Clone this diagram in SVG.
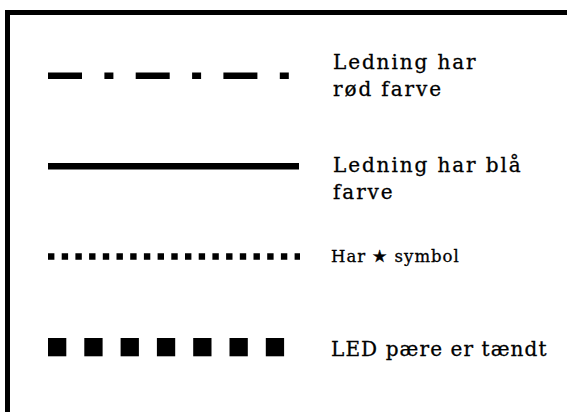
<svg xmlns="http://www.w3.org/2000/svg" width="567" height="412" viewBox="0 0 567 412">
  <style>
    .label { font-family: "DejaVu Serif", "Liberation Serif", serif; fill: #000; stroke: #000; stroke-width: 0.3px; }
    .big { font-size: 20px; letter-spacing: 1.9px; }
    .tight { letter-spacing: 1.1px; }
    .small { font-size: 16.5px; letter-spacing: 1px; }
    .stroke { fill: none; stroke: #000; }
  </style>
  <rect width="567" height="412" fill="#fff"/>
  <!-- legend frame (continues past the right and bottom edges) -->
  <rect x="7.5" y="12.5" width="600" height="450" fill="none" stroke="#000" stroke-width="5"/>

  <g id="connectors">
    <!-- red wire: dash-dot -->
    <line class="stroke" x1="48" y1="75.7" x2="291" y2="75.7" stroke-width="6.6" stroke-dasharray="34 22.4 9 22.3"/>
    <!-- blue wire: solid -->
    <line class="stroke" x1="48" y1="166.2" x2="299" y2="166.2" stroke-width="6.4"/>
    <!-- star symbol: dotted -->
    <line class="stroke" x1="48" y1="256.5" x2="300" y2="256.5" stroke-width="6.4" stroke-dasharray="6.4 7.3"/>
  </g>

  <g id="led">
    <rect x="48" y="338" width="18.3" height="18.3"/>
    <rect x="84.3" y="338" width="18.3" height="18.3"/>
    <rect x="120.6" y="338" width="18.3" height="18.3"/>
    <rect x="156.9" y="338" width="18.3" height="18.3"/>
    <rect x="193.2" y="338" width="18.3" height="18.3"/>
    <rect x="229.5" y="338" width="18.3" height="18.3"/>
    <rect x="265.8" y="338" width="18.3" height="18.3"/>
  </g>

  <g id="label-red">
    <text class="label big" x="333" y="69">Ledning har</text>
    <text class="label big" x="333" y="96">rød farve</text>
  </g>
  <g id="label-blue">
    <text class="label big" x="333" y="172">Ledning har blå</text>
    <text class="label big" x="333" y="199">farve</text>
  </g>
  <g id="label-star">
    <text class="label small" x="331" y="262">Har ★ symbol</text>
  </g>
  <g id="label-led">
    <text class="label big tight" x="331" y="356">LED pære er tændt</text>
  </g>
</svg>
